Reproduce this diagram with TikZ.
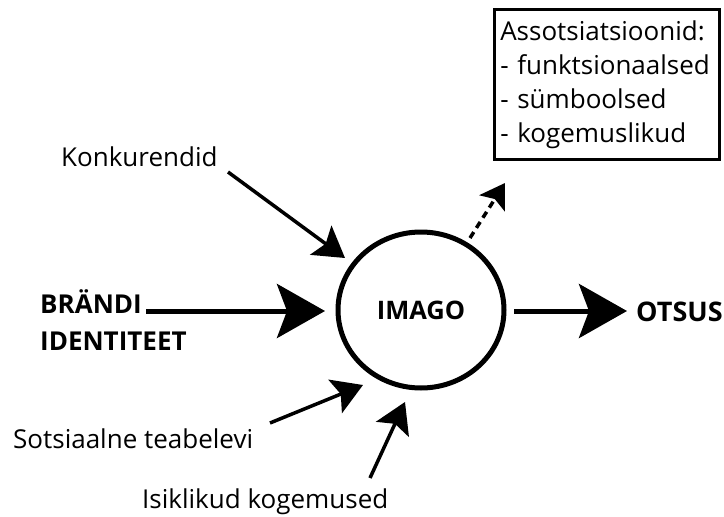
\documentclass[tikz,border=0pt]{standalone}
\usepackage{fontspec}
\setmainfont{Open Sans}
\usetikzlibrary{arrows.meta,shapes.geometric}
\begin{document}
\begin{tikzpicture}[x=1pt,y=-1pt,
  lbl/.style={inner sep=0pt, font=\fontsize{26}{30}\selectfont},
  blbl/.style={inner sep=0pt, font=\fontsize{26}{30}\selectfont\bfseries},
  bigarrow/.style={line width=5pt, -{Stealth[length=48pt,width=54pt,inset=10pt]}},
  smallarrow/.style={line width=3.5pt, -{Stealth[length=30pt,width=36pt,inset=6pt]}},
  dasharrow/.style={line width=3.5pt, dash pattern=on 7pt off 5pt, -{Stealth[length=24pt,width=30pt,inset=5pt]}}]
\useasboundingbox (0,0) rectangle (724,517);
\fill[white] (0,0) rectangle (724,517);

% central ellipse
\node[draw, line width=5pt, ellipse, minimum width=166pt, minimum height=156pt, inner sep=0pt,
      font=\fontsize{25.5}{30}\selectfont\bfseries] (imago) at (421,310) {IMAGO};

% texts
\node[lbl, anchor=base west] (konk) at (61,166) {Konkurendid};
\node[lbl, anchor=base west] (sots) at (13,448) {Sotsiaalne teabelevi};
\node[lbl, anchor=base west] (isik) at (142,508) {Isiklikud kogemused};
\node[blbl, anchor=base west] (brandi) at (40,313) {BRÄNDI};
\node[blbl, anchor=base west] (ident) at (40,350) {IDENTITEET};
\node[blbl, anchor=base west, font=\fontsize{27}{30}\selectfont\bfseries] (otsus) at (636,321) {OTSUS};

\node[draw, line width=2.5pt, anchor=north west, minimum width=225pt, minimum height=150pt,
      inner xsep=6pt, inner ysep=0pt, text width=213pt, align=left,
      font=\fontsize{26}{34}\selectfont] (box) at (493,8)
  {Assotsiatsioonid:\\- funktsionaalsed\\- sümboolsed\\- kogemuslikud};

% connector coordinates
\coordinate (bstart) at (146,311);
\coordinate (btip) at (325,311);
\coordinate (ostart) at (514,311);
\coordinate (otip) at (627,311);
\coordinate (kstart) at (228,172);
\coordinate (ktip) at (345,258);
\coordinate (sstart) at (270,423);
\coordinate (stip) at (363,385);
\coordinate (istart) at (370,478);
\coordinate (itip) at (405,402);
\coordinate (dstart) at (470,238);
\coordinate (dtip) at (505,183);

\draw[bigarrow] (bstart) -- (btip);
\draw[bigarrow] (ostart) -- (otip);
\draw[smallarrow] (kstart) -- (ktip);
\draw[smallarrow] (sstart) -- (stip);
\draw[smallarrow] (istart) -- (itip);
\draw[dasharrow] (dstart) -- (dtip);
\end{tikzpicture}
\end{document}
